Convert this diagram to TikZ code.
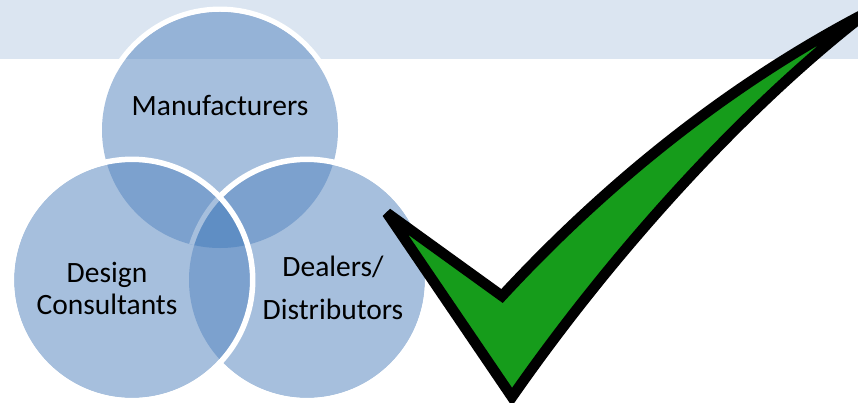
\documentclass[tikz,border=0pt]{standalone}
\usepackage{fontspec}
\setmainfont{Carlito}
\definecolor{bandc}{HTML}{DBE5F1}
\definecolor{onec}{HTML}{A6BFDD}
\definecolor{topc}{HTML}{95B3D7}
\definecolor{twoc}{HTML}{7CA1CE}
\definecolor{threec}{HTML}{5F8EC4}
\definecolor{thinc}{HTML}{A6BFDD}
\definecolor{checkc}{HTML}{169C1B}
\tikzset{
  lbl/.style={font=\fontsize{29.5}{32}\selectfont, text=black, align=center, inner sep=0pt},
  ringw/.style={draw=white, line width=5.5pt},
}
\def\rr{118}
\def\ro{120.7}
\begin{document}
\begin{tikzpicture}[x=1pt,y=-1pt]
\useasboundingbox (0,0) rectangle (858,403);
\clip (0,0) rectangle (858,403);
\coordinate (T) at (220,130);
\coordinate (L) at (132,280);
\coordinate (R) at (307,280);
% band
\fill[bandc] (0,0) rectangle (858,59);
% top disc, with its ring over the band
\begin{scope}
  \clip (0,0) rectangle (858,59);
  \draw[ringw] (T) circle[radius=\ro];
\end{scope}
\fill[onec] (T) circle[radius=\rr];
\begin{scope}
  \clip (0,0) rectangle (858,59);
  \fill[topc] (T) circle[radius=\rr];
\end{scope}
% right disc and its lens with the top disc
\fill[onec] (R) circle[radius=\rr];
\begin{scope}
  \clip (T) circle[radius=\rr];
  \fill[twoc] (R) circle[radius=\rr];
\end{scope}
\draw[ringw] (R) circle[radius=\ro];
% left disc paints over that ring
\fill[onec] (L) circle[radius=\rr];
\begin{scope}
  \clip (T) circle[radius=\rr];
  \fill[twoc] (L) circle[radius=\rr];
\end{scope}
\begin{scope}
  \clip (L) circle[radius=\rr];
  \fill[twoc] (R) circle[radius=\rr];
\end{scope}
\begin{scope}
  \clip (T) circle[radius=\rr];
  \clip (L) circle[radius=\rr];
  \fill[threec] (R) circle[radius=\rr];
\end{scope}
% faint edge of the right disc inside the top/left lens
\begin{scope}
  \clip (T) circle[radius=\rr];
  \clip (L) circle[radius=\rr];
  \draw[thinc,line width=5pt] (R) circle[radius=\ro];
\end{scope}
% white ring of left disc
\draw[ringw] (L) circle[radius=\ro];
% labels
\node[lbl] (man) at (220,105) {Manufacturers};
\node[lbl] (des) at (107,288) {Design\\Consultants};
\node[lbl] (dea) at (333,288) {Dealers/\\[11pt]Distributors};
% check mark
\draw[draw=black,fill=checkc,line width=10.5pt,line join=miter,miter limit=3]
  (387,213) -- (502,296)
  .. controls (600,190) and (720,90) .. (860,16)
  -- (860,18)
  .. controls (755,100) and (625,235) .. (512,397) -- cycle;
\end{tikzpicture}
\end{document}
